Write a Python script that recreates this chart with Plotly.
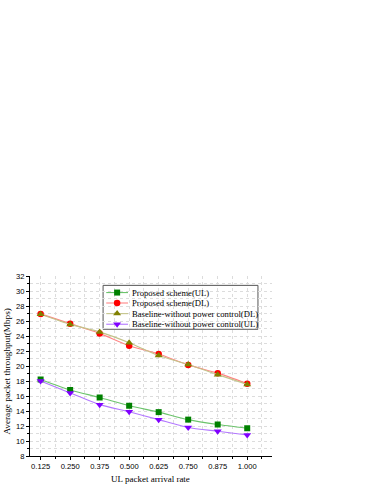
import plotly.graph_objects as go

x_rates = [0.125, 0.250, 0.375, 0.500, 0.625, 0.750, 0.875, 1.000]
proposed_ul = [18.2, 16.8, 15.8, 14.7, 13.85, 12.85, 12.2, 11.7]
proposed_dl = [26.95, 25.65, 24.35, 22.7, 21.6, 20.15, 19.05, 17.65]
baseline_dl = [26.9, 25.55, 24.55, 23.1, 21.4, 20.2, 18.85, 17.55]
baseline_ul = [18.0, 16.4, 14.85, 13.9, 12.85, 11.8, 11.3, 10.8]

series_names = ["Proposed scheme(UL)", "Proposed scheme(DL)",
                "Baseline-without power control(DL)", "Baseline-without power control(UL)"]
series_vals = [proposed_ul, proposed_dl, baseline_dl, baseline_ul]
marker_colors = ["#008000", "#ff0000", "#808000", "#8000ff"]
line_colors = ["#6cc46c", "#ff8585", "#c4c48a", "#b378ff"]
symbols = ["square", "circle", "triangle-up", "triangle-down"]
sizes = [6, 6.5, 7, 7]

fig = go.Figure()
for name, vals, mc, lc, sym, sz in zip(series_names, series_vals, marker_colors, line_colors, symbols, sizes):
    fig.add_trace(go.Scatter(
        x=x_rates, y=vals, mode="lines+markers", name=name, showlegend=False,
        line=dict(color=lc, width=1.1, shape="spline", smoothing=0.6),
        marker=dict(symbol=sym, size=sz, color=mc, line=dict(width=0)),
    ))

# manual legend (overlay axes in 0..1 coordinates)
leg_x0, leg_x1 = 0.302, 0.942
leg_y0, leg_y1 = 0.704, 0.948
sw_x0, sw_x1 = 0.315, 0.405
txt_x = 0.418
row_y = [0.908, 0.850, 0.791, 0.732]
serif = "Liberation Serif, Times New Roman, serif"
for i, (name, mc, lc, sym, sz) in enumerate(zip(series_names, marker_colors, line_colors, symbols, sizes)):
    fig.add_trace(go.Scatter(
        x=[sw_x0, (sw_x0 + sw_x1) / 2, sw_x1], y=[row_y[i]] * 3, xaxis="x2", yaxis="y2",
        mode="lines", line=dict(color=lc, width=1.1), showlegend=False, hoverinfo="skip"))
    fig.add_trace(go.Scatter(
        x=[(sw_x0 + sw_x1) / 2], y=[row_y[i]], xaxis="x2", yaxis="y2",
        mode="markers", marker=dict(symbol=sym, size=sz, color=mc), showlegend=False, hoverinfo="skip"))
    fig.add_annotation(x=txt_x, y=row_y[i], xref="paper", yref="paper", text=name,
                       showarrow=False, xanchor="left", yanchor="middle", borderpad=0,
                       font=dict(family=serif, size=8.6, color="#000"))

fig.add_shape(type="rect", xref="paper", yref="paper", x0=leg_x0, x1=leg_x1, y0=leg_y0, y1=leg_y1,
              line=dict(color="#555555", width=1), fillcolor="white", layer="below")

# axis titles
fig.add_annotation(x=-0.095, y=0.469, xref="paper", yref="paper", text="Average packet throughput(Mbps)",
                   textangle=-90, showarrow=False, xanchor="center", yanchor="middle",
                   font=dict(family=serif, size=9.2, color="#000"))
fig.add_annotation(x=0.498, y=-0.128, xref="paper", yref="paper", text="UL packet arrival rate",
                   showarrow=False, xanchor="center", yanchor="middle",
                   font=dict(family=serif, size=9, color="#000"))

tick_font = dict(family="Liberation Sans, Arial, sans-serif", size=7.6, color="#000")
grid_col = "#dcdcdc"

fig.update_layout(
    width=374, height=484,
    margin=dict(l=30, r=102, t=276, b=28),
    paper_bgcolor="white", plot_bgcolor="white",
    showlegend=False,
    xaxis=dict(range=[0.08, 1.105], tick0=0.125, dtick=0.125, tickformat=".3f", automargin=False,
               showline=True, linecolor="#000", linewidth=1, ticks="outside", ticklen=3,
               tickcolor="#000", tickfont=tick_font, showgrid=True, gridcolor=grid_col,
               griddash="dot", gridwidth=1, zeroline=False,
               minor=dict(dtick=0.0625, tick0=0.0625, ticks="outside", ticklen=2, tickcolor="#000",
                          showgrid=True, gridcolor=grid_col, griddash="dot")),
    yaxis=dict(range=[8, 32], tick0=8, dtick=2, automargin=False,
               showline=True, linecolor="#000", linewidth=1, ticks="outside", ticklen=3,
               tickcolor="#000", tickfont=tick_font, showgrid=True, gridcolor=grid_col,
               griddash="dot", gridwidth=1, zeroline=False,
               minor=dict(dtick=1, ticks="outside", ticklen=2, tickcolor="#000",
                          showgrid=True, gridcolor=grid_col, griddash="dot")),
    xaxis2=dict(overlaying="x", range=[0, 1], visible=False, fixedrange=True),
    yaxis2=dict(overlaying="y", range=[0, 1], visible=False, fixedrange=True),
)

fig.write_html("out.html", config={"displayModeBar": False},
               post_script="document.body.style.margin='0';")
